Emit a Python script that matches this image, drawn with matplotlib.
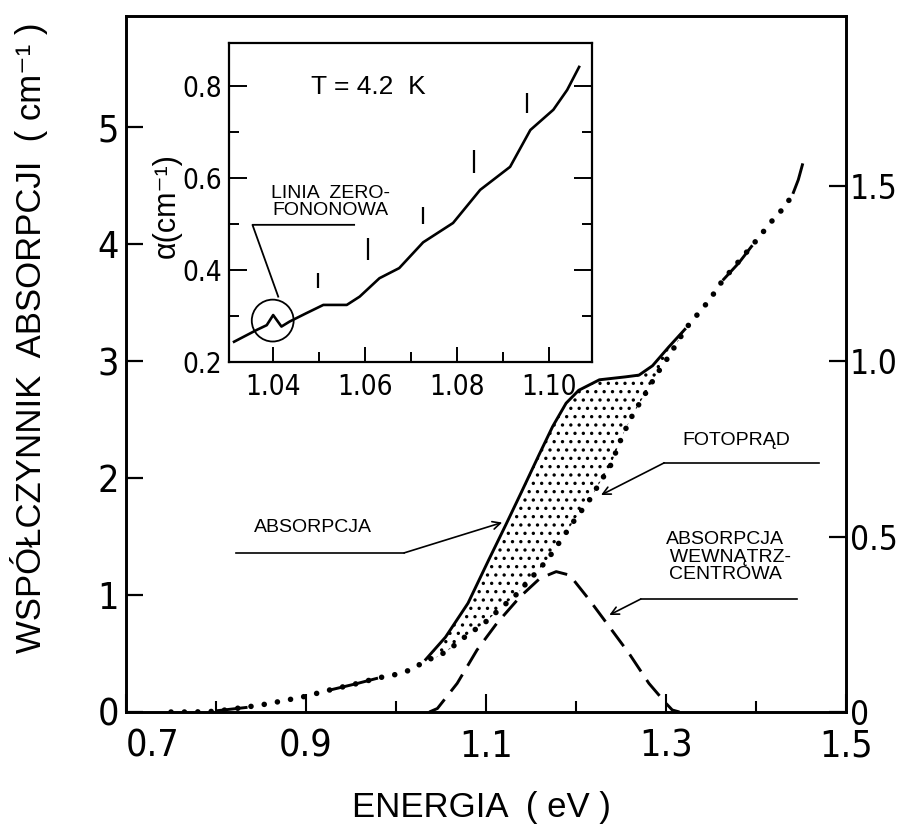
import matplotlib
matplotlib.use("Agg")
import matplotlib.pyplot as plt
import numpy as np
from matplotlib import font_manager
from matplotlib.patches import Ellipse
from matplotlib.ticker import FixedLocator, FixedFormatter

# --- data ---
# absorption (left axis, cm^-1)
abs_x = [0.750, 0.800, 0.835, 0.850, 0.875, 0.900, 0.925, 0.955, 0.980, 1.000, 1.020,
         1.032, 1.055, 1.080, 1.103, 1.122, 1.140, 1.159, 1.174, 1.189, 1.203, 1.226,
         1.255, 1.270, 1.285, 1.303, 1.322, 1.348, 1.363, 1.381, 1.396, 1.418, 1.433,
         1.441, 1.447, 1.452]
abs_y = [0.0, 0.01, 0.04, 0.06, 0.095, 0.135, 0.185, 0.24, 0.29, 0.32, 0.37,
         0.44, 0.64, 0.93, 1.30, 1.60, 1.89, 2.20, 2.44, 2.64, 2.75, 2.84,
         2.865, 2.88, 2.96, 3.12, 3.28, 3.52, 3.69, 3.84, 3.99, 4.20, 4.33,
         4.43, 4.55, 4.69]
# parts of the absorption curve drawn as solid line
abs_solid = [(0.800, 0.835), (0.925, 0.980), (1.032, 1.322), (1.363, 1.396), (1.441, 1.452)]

# photocurrent (right axis, arb. units)
pc_x = [0.750, 0.775, 0.800, 0.850, 0.875, 0.900, 0.925, 0.955, 0.980, 1.000, 1.020,
        1.032, 1.046, 1.060, 1.078, 1.098, 1.116, 1.133, 1.152, 1.168, 1.186, 1.200,
        1.214, 1.228, 1.238, 1.252, 1.263, 1.277, 1.289, 1.303, 1.322, 1.348, 1.363,
        1.396, 1.418, 1.433, 1.441]
pc_y = [0.0, 0.0, 0.002, 0.020, 0.032, 0.045, 0.062, 0.080, 0.097, 0.107, 0.123,
        0.147, 0.157, 0.180, 0.217, 0.253, 0.295, 0.333, 0.387, 0.433, 0.500, 0.553,
        0.600, 0.660, 0.700, 0.790, 0.847, 0.907, 0.960, 1.013, 1.093, 1.173, 1.230,
        1.330, 1.400, 1.443, 1.477]

# intracentre absorption band (dashed)
band_x = [1.037, 1.046, 1.068, 1.090, 1.112, 1.138, 1.160, 1.178, 1.193, 1.215,
          1.237, 1.259, 1.281, 1.300, 1.307, 1.315]
band_y = [0.0, 0.03, 0.245, 0.53, 0.758, 0.986, 1.143, 1.20, 1.17, 0.957,
          0.729, 0.50, 0.245, 0.074, 0.017, 0.0]

# inset, T = 4.2 K
ins_x = [1.0315, 1.0365, 1.0386, 1.0400, 1.0418, 1.0436, 1.0470, 1.0509, 1.0560,
         1.0588, 1.0631, 1.0674, 1.0726, 1.0791, 1.0850, 1.0915, 1.0959, 1.1009,
         1.1039, 1.1065]
ins_y = [0.244, 0.270, 0.280, 0.302, 0.277, 0.288, 0.305, 0.324, 0.324,
         0.342, 0.382, 0.404, 0.460, 0.502, 0.574, 0.624, 0.704, 0.748,
         0.791, 0.841]
bar_x = [1.0498, 1.0607, 1.0726, 1.0837, 1.0952]
bar_lo = [0.361, 0.422, 0.500, 0.610, 0.740]
bar_hi = [0.393, 0.470, 0.537, 0.660, 0.785]

xticks_main = [0.7, 0.9, 1.1, 1.3, 1.5]
xlabels_main = ['0.7', '0.9', '1.1', '1.3', '1.5']
right_ticks = [0, 0.5, 1.0, 1.5]
right_labels = ['0', '0.5', '1.0', '1.5']
ins_xticks = [1.04, 1.06, 1.08, 1.10]
ins_xlabels = ['1.04', '1.06', '1.08', '1.10']

REG = 'Liberation Sans'
# a narrow sans for the tick numbers, if one is installed
narrow_file = None
for f in font_manager.fontManager.ttflist:
    n = f.name.lower()
    if ('narrow' in n or 'condensed' in n or f.stretch in ('condensed', 'semi-condensed')) \
            and f.style == 'normal' and f.weight in (400, 'normal', 'regular') \
            and 'mono' not in n and 'serif' not in n:
        narrow_file = f.fname
        break
if narrow_file:
    tick_fp = lambda size: font_manager.FontProperties(fname=narrow_file, size=size)
    scale = 1.0
else:
    tick_fp = lambda size: font_manager.FontProperties(family=REG, size=size)
    scale = 0.85

plt.rcParams['font.family'] = [REG, 'DejaVu Sans']
plt.rcParams['hatch.linewidth'] = 1.2

fig = plt.figure(figsize=(9.02, 8.31), dpi=100)
ax = fig.add_axes([126/902, 119/831, 720/902, 696/831])
ax2 = ax.twinx()

YTOP = 5.95
ax.set_xlim(0.7, 1.5)
ax.set_ylim(0, YTOP)
ax2.set_ylim(0, YTOP / 3)

for a in (ax, ax2):
    for s in a.spines.values():
        s.set_linewidth(1.9)

# ticks
ax.xaxis.set_major_locator(FixedLocator(xticks_main))
ax.xaxis.set_major_formatter(FixedFormatter(xlabels_main))
ax.xaxis.set_minor_locator(FixedLocator([0.8, 1.0, 1.2, 1.4]))
ax.set_yticks(range(6))
ax.tick_params(axis='x', which='major', direction='in', length=13, width=1.5, pad=12, top=False)
ax.tick_params(axis='x', which='minor', direction='in', length=8, width=1.5, top=False)
ax.tick_params(axis='y', direction='in', length=12, width=1.6, pad=5, right=False)
ax2.yaxis.set_major_locator(FixedLocator(right_ticks))
ax2.yaxis.set_major_formatter(FixedFormatter(right_labels))
ax2.tick_params(axis='y', direction='in', length=12, width=1.6, pad=3)
xlabs = ax.get_xticklabels()
for lab in xlabs:
    lab.set_fontproperties(tick_fp(27 * scale))
xlabs[0].set_horizontalalignment('left')
for lab in ax.get_yticklabels():
    lab.set_fontproperties(tick_fp(27 * scale))
for lab in ax2.get_yticklabels():
    lab.set_fontproperties(tick_fp(24 * scale))

ax.set_ylabel('WSPÓŁCZYNNIK  ABSORPCJI  ( cm⁻¹ )', fontsize=25)
ax.yaxis.set_label_coords(-0.108, 0.537)
ax.set_xlabel('ENERGIA  ( eV )', fontsize=25)
ax.xaxis.set_label_coords(0.494, -0.1135)

# photocurrent: big dots, on right axis
ax2.plot(pc_x, pc_y, color='black', lw=4.0, linestyle=(0, (0.01, 2.4)),
         dash_capstyle='round')

# absorption: solid where it separates from the photocurrent
ax_arr = np.array(abs_x)
ay_arr = np.array(abs_y)
for lo, hi in abs_solid:
    m = (ax_arr >= lo - 1e-9) & (ax_arr <= hi + 1e-9)
    ax.plot(ax_arr[m], ay_arr[m], color='black', lw=2.1, solid_capstyle='butt')

# stippled region between absorption and photocurrent
px_arr = np.array(pc_x)
py_arr = np.array(pc_y) * 3
ma = (ax_arr >= 1.032) & (ax_arr <= 1.322)
mp = (px_arr >= 1.032) & (px_arr <= 1.322)
poly_x = np.concatenate([ax_arr[ma], px_arr[mp][::-1]])
poly_y = np.concatenate([ay_arr[ma], py_arr[mp][::-1]])
ax.fill(poly_x, poly_y, facecolor='none', edgecolor='black', linewidth=0, hatch='..')

# intracentre band
ax.plot(band_x, band_y, color='black', lw=2.1, linestyle=(0, (7, 3.5)))

# annotations
arrow = dict(arrowstyle='->', lw=1.2, color='black', shrinkA=0, shrinkB=0,
             mutation_scale=14)
ax.plot([0.822, 1.009], [1.36, 1.36], color='black', lw=1.2)
ax.annotate('', xy=(1.118, 1.62), xytext=(1.009, 1.36), arrowprops=arrow)
ax.text(0.908, 1.58, 'ABSORPCJA', fontsize=14, ha='center', va='center')

ax.plot([1.298, 1.47], [2.13, 2.13], color='black', lw=1.2)
ax.annotate('', xy=(1.2278, 1.855), xytext=(1.298, 2.13), arrowprops=arrow)
ax.text(1.378, 2.32, 'FOTOPRĄD', fontsize=14, ha='center', va='center')

ax.plot([1.272, 1.446], [0.966, 0.966], color='black', lw=1.2)
ax.annotate('', xy=(1.237, 0.829), xytext=(1.272, 0.966), arrowprops=arrow)
ax.text(1.366, 1.325, 'ABSORPCJA\n  WEWNĄTRZ-\nCENTROWA', fontsize=14, ha='center',
        va='center', multialignment='center', linespacing=1.05)

# --- inset ---
axi = fig.add_axes([229/902, (831-362)/831, 363/902, 319/831])
axi.set_xlim(1.0304, 1.1093)
axi.set_ylim(0.2, 0.893)
for s in axi.spines.values():
    s.set_linewidth(1.6)
axi.plot(ins_x, ins_y, color='black', lw=1.9)
axi.vlines(bar_x, bar_lo, bar_hi, color='black', lw=1.6)
axi.add_patch(Ellipse((1.0399, 0.290), 0.0091, 0.091, fill=False, lw=1.3, color='black'))
axi.plot([1.0411, 1.0355, 1.0576], [0.342, 0.498, 0.498], color='black', lw=1.3)
axi.text(1.0524, 0.548, 'LINIA  ZERO-\nFONONOWA', fontsize=14, ha='center', va='center',
         multialignment='center', linespacing=1.0)
axi.text(1.0607, 0.798, 'T = 4.2  K', fontsize=19, ha='center', va='center')

axi.xaxis.set_major_locator(FixedLocator(ins_xticks))
axi.xaxis.set_major_formatter(FixedFormatter(ins_xlabels))
axi.xaxis.set_minor_locator(FixedLocator([1.05, 1.07, 1.09]))
axi.yaxis.set_major_locator(FixedLocator([0.2, 0.4, 0.6, 0.8]))
axi.yaxis.set_minor_locator(FixedLocator([0.3, 0.5, 0.7]))
axi.tick_params(axis='x', which='major', direction='in', length=11, width=1.4, pad=8)
axi.tick_params(axis='x', which='minor', direction='in', length=7, width=1.4)
axi.tick_params(axis='y', which='major', direction='in', length=13, width=1.4, pad=5, right=True)
axi.tick_params(axis='y', which='minor', direction='in', length=7, width=1.4, right=True)
for lab in axi.get_xticklabels() + axi.get_yticklabels():
    lab.set_fontproperties(tick_fp(20 * scale))
axi.set_ylabel('α(cm⁻¹)', fontsize=22, family=[REG, 'DejaVu Sans'])
axi.yaxis.set_label_coords(-0.129, 0.49)

fig.savefig('out.png', dpi=100)
